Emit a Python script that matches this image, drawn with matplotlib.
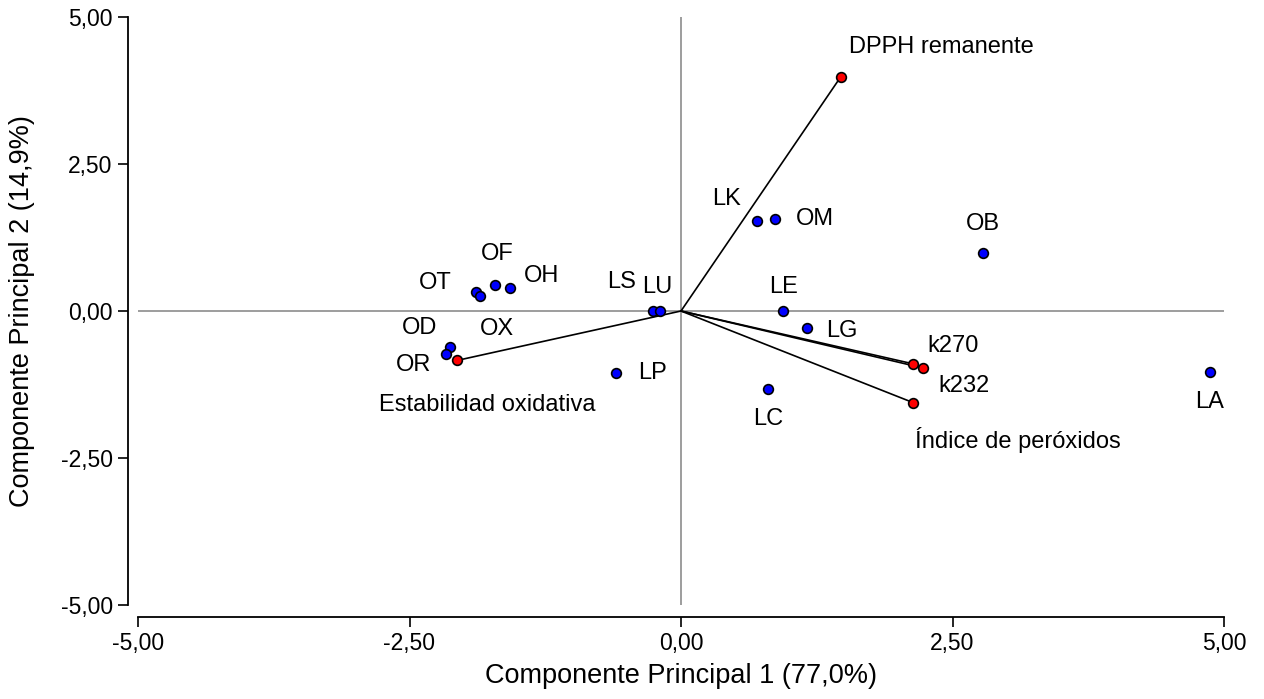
import matplotlib
matplotlib.use("Agg")
import matplotlib.pyplot as plt

plt.rcParams['font.family'] = ['Liberation Sans', 'DejaVu Sans']

# observations (scores)
obs_names = ["LA", "OB", "LK", "OM", "LE", "LG", "LC", "LP", "LS", "LU",
             "OF", "OH", "OT", "OX", "OD", "OR"]
obs_x = [4.87, 2.78, 0.70, 0.87, 0.94, 1.16, 0.80, -0.60, -0.26, -0.19,
         -1.71, -1.57, -1.89, -1.85, -2.13, -2.16]
obs_y = [-1.04, 0.99, 1.53, 1.56, 0.00, -0.29, -1.32, -1.05, 0.00, 0.00,
         0.44, 0.39, 0.32, 0.26, -0.61, -0.73]

# variables (loadings)
var_names = ["DPPH remanente", "Estabilidad oxidativa", "k270", "k232",
             "Índice de peróxidos"]
var_x = [1.47, -2.06, 2.14, 2.23, 2.14]
var_y = [3.98, -0.84, -0.90, -0.97, -1.56]

# label offsets in pixels (dx, dy, ha)
obs_off = {"LA": (0, -30, "center"), "OB": (0, 29, "center"), "LK": (-31, 22, "center"),
           "OM": (20, 0, "left"), "LE": (0, 24, "center"), "LG": (19, -3, "left"),
           "LC": (0, -30, "center"), "LP": (22, 0, "left"), "LS": (-31, 29, "center"),
           "LU": (-3, 24, "center"), "OF": (2, 31, "center"), "OH": (13, 12, "left"),
           "OT": (-40, 9, "center"), "OX": (17, -33, "center"), "OD": (-30, 19, "center"),
           "OR": (-33, -11, "center")}
var_off = {"DPPH remanente": (8, 30, "left"), "Estabilidad oxidativa": (30, -45, "center"),
           "k270": (14, 18, "left"), "k232": (15, -18, "left"),
           "Índice de peróxidos": (2, -37, "left")}

W, H, DPI = 1264, 699, 100
fig = plt.figure(figsize=(W / DPI, H / DPI), dpi=DPI)
ax = fig.add_axes([138 / W, (H - 605) / H, (1224 - 138) / W, (605 - 17) / H])

ax.axhline(0, color="#8c8c8c", lw=1.2, zorder=1)
ax.axvline(0, color="#8c8c8c", lw=1.2, zorder=1)

for x, y in zip(var_x, var_y):
    ax.plot([0, x], [0, y], color="black", lw=1.2, zorder=2)

ax.plot(obs_x, obs_y, "o", ms=7, mfc="#0000ff", mec="black", mew=1.2, ls="none", zorder=3)
ax.plot(var_x, var_y, "o", ms=7, mfc="#ff0000", mec="black", mew=1.2, ls="none", zorder=3)

px = 72 / DPI
for n, x, y in zip(obs_names, obs_x, obs_y):
    dx, dy, ha = obs_off[n]
    ax.annotate(n, (x, y), xytext=(dx * px, dy * px), textcoords="offset points",
                ha=ha, va="center", fontsize=17)
for n, x, y in zip(var_names, var_x, var_y):
    dx, dy, ha = var_off[n]
    ax.annotate(n, (x, y), xytext=(dx * px, dy * px), textcoords="offset points",
                ha=ha, va="center", fontsize=17)

ax.set_xlim(-5, 5)
ax.set_ylim(-5, 5)
ticks = [-5, -2.5, 0, 2.5, 5]
labels = ["-5,00", "-2,50", "0,00", "2,50", "5,00"]
ax.set_xticks(ticks)
ax.set_xticklabels(labels)
ax.set_yticks(ticks)
ax.set_yticklabels(labels)

for s in ["top", "right"]:
    ax.spines[s].set_visible(False)
ax.spines["left"].set_position(("outward", 10 * px))
ax.spines["bottom"].set_position(("outward", 12 * px))
for s in ["left", "bottom"]:
    ax.spines[s].set_linewidth(1.3)
ax.tick_params(length=7, width=1.2, labelsize=16.5, pad=4)

ax.set_xlabel("Componente Principal 1 (77,0%)", fontsize=19.5, va="center")
ax.set_ylabel("Componente Principal 2 (14,9%)", fontsize=19.5, va="center")
ax.xaxis.set_label_coords(0.5, (605 - 676) / 588)
ax.yaxis.set_label_coords((22 - 138) / 1086, 0.5)

fig.savefig("out.png", dpi=DPI)
